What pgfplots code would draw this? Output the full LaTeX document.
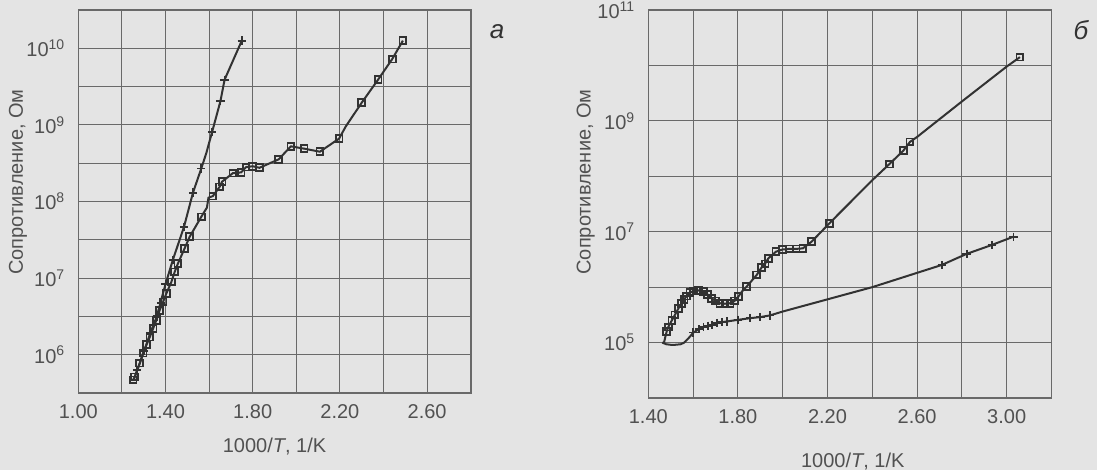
\documentclass[border=0pt]{standalone}
\usepackage{pgfplots}
\pgfplotsset{compat=1.18}
\usepackage{fontspec}
\setmainfont{Liberation Sans}

\definecolor{bg}{RGB}{228,228,228}
\definecolor{ink}{RGB}{50,50,50}
\definecolor{gridc}{RGB}{105,105,105}

% resistance as log10(R, Ohm) vs 1000/T
\pgfplotsset{
  panel/.style={
    scale only axis,
    axis background/.style={fill=bg},
    axis line style={gridc, line width=0.8pt},
    grid=both,
    major grid style={gridc, line width=0.5pt},
    minor grid style={gridc, line width=0.5pt},
    major tick length=0pt, minor tick length=0pt,
    tick label style={font=\fontsize{10}{12}\selectfont, text=ink!85},
    label style={font=\fontsize{10}{12}\selectfont, text=ink!85},
    xticklabel style={yshift=-2pt},
    yticklabel style={xshift=-3pt},
    clip=false,
  },
  sq/.style={ink, line width=1pt, mark=square, mark size=1.7pt, mark options={solid, fill=bg!70!ink, line width=0.9pt}},
  pl/.style={ink, line width=1pt, mark=+, mark size=2.1pt, mark options={line width=0.9pt}},
  ln/.style={ink, line width=1pt, no marks},
}

\begin{document}
\begin{tikzpicture}
\fill[bg] (0,0) rectangle (548.5pt,235pt);
\path[use as bounding box] (0,0) rectangle (548.5pt,235pt);

% panel a
\begin{axis}[panel,
  at={(39.15pt,38.5pt)}, anchor=south west,
  width=196.2pt, height=191.5pt,
  xmin=1.0, xmax=2.8, ymin=5.5, ymax=10.5,
  xtick={1.0,1.4,1.8,2.2,2.6}, minor xtick={1.2,1.6,2.0,2.4},
  xticklabels={1.00,1.40,1.80,2.20,2.60},
  ytick={6,7,8,9,10}, minor ytick={6.5,7.5,8.5,9.5},
  yticklabels={10\textsuperscript{6},10\textsuperscript{7},10\textsuperscript{8},10\textsuperscript{9},10\textsuperscript{10}},
  xlabel={1000/\textit{T}, 1/K},
  ylabel={Сопротивление, Ом},
  xlabel style={at={(axis description cs:0.5,-0.141)}, anchor=center},
  ylabel style={at={(axis description cs:-0.154,0.551)}, anchor=center},
]
\addplot[ln] coordinates {
(1.255,5.68) (1.29,5.95) (1.33,6.28) (1.36,6.50) (1.40,6.92) (1.434,7.24)
(1.485,7.67) (1.526,8.115) (1.564,8.43) (1.587,8.63) (1.614,8.91)
(1.652,9.31) (1.671,9.59) (1.750,10.10)};
\addplot[pl, only marks] coordinates {
(1.27,5.80) (1.30,6.05) (1.33,6.28) (1.36,6.50) (1.38,6.68) (1.40,6.92)
(1.434,7.24) (1.485,7.67) (1.526,8.115) (1.564,8.43) (1.614,8.91)
(1.652,9.31) (1.671,9.59) (1.750,10.10)};
\addplot[ln] coordinates {
(1.251,5.67) (1.259,5.71) (1.282,5.89) (1.297,6.02) (1.313,6.13) (1.328,6.23)
(1.343,6.34) (1.358,6.45) (1.373,6.58) (1.389,6.69) (1.404,6.80) (1.427,6.95)
(1.442,7.08) (1.457,7.19) (1.488,7.39) (1.511,7.54) (1.564,7.80) (1.590,7.92)
(1.597,8.05) (1.617,8.07) (1.648,8.19) (1.660,8.26) (1.709,8.37) (1.747,8.38)
(1.770,8.45) (1.800,8.46) (1.831,8.44) (1.919,8.55) (1.975,8.72) (2.036,8.69)
(2.108,8.65) (2.196,8.82) (2.227,8.98) (2.300,9.29) (2.375,9.59) (2.440,9.86)
(2.489,10.10)};
\addplot[sq, only marks] coordinates {
(1.251,5.67) (1.259,5.71) (1.282,5.89) (1.297,6.02) (1.313,6.13) (1.328,6.23)
(1.343,6.34) (1.358,6.45) (1.373,6.58) (1.389,6.69) (1.404,6.80) (1.427,6.95)
(1.442,7.08) (1.457,7.19) (1.488,7.39) (1.511,7.54) (1.564,7.80)
(1.617,8.07) (1.648,8.19) (1.660,8.26) (1.709,8.37) (1.747,8.38)
(1.770,8.45) (1.800,8.46) (1.831,8.44) (1.919,8.55) (1.975,8.72) (2.036,8.69)
(2.108,8.65) (2.196,8.82) (2.300,9.29) (2.375,9.59) (2.440,9.86)
(2.489,10.10)};
\node[font=\fontsize{13}{13}\selectfont\itshape, text=ink] at (rel axis cs:1.067,0.943) {а};
\end{axis}

% panel b
\begin{axis}[panel,
  at={(324.15pt,36pt)}, anchor=south west,
  width=201.6pt, height=194pt,
  xmin=1.4, xmax=3.2, ymin=4, ymax=11,
  xtick={1.4,1.8,2.2,2.6,3.0}, minor xtick={1.6,2.0,2.4,2.8},
  xticklabels={1.40,1.80,2.20,2.60,3.00},
  ytick={5,7,9,11}, minor ytick={6,8,10},
  yticklabels={10\textsuperscript{5},10\textsuperscript{7},10\textsuperscript{9},10\textsuperscript{11}},
  xlabel={1000/\textit{T}, 1/K},
  ylabel={Сопротивление, Ом},
  xlabel style={at={(axis description cs:0.507,-0.165)}, anchor=center},
  ylabel style={at={(axis description cs:-0.155,0.557)}, anchor=center},
]
\addplot[ln] coordinates {
(1.462,5.00) (1.480,4.97) (1.500,4.96) (1.520,4.96) (1.545,4.97) (1.560,5.00)
(1.580,5.08) (1.601,5.18) (1.625,5.24) (1.646,5.28) (1.665,5.30) (1.685,5.32)
(1.705,5.35) (1.730,5.37) (1.750,5.38) (1.800,5.41) (1.854,5.44) (1.900,5.46)
(1.943,5.49) (2.000,5.56) (2.400,6.00) (2.710,6.40) (2.821,6.60) (2.933,6.76)
(3.030,6.91)};
\addplot[pl, only marks] coordinates {
(1.601,5.18) (1.625,5.24) (1.646,5.28) (1.665,5.30) (1.685,5.32)
(1.705,5.35) (1.730,5.37) (1.750,5.38) (1.800,5.41) (1.854,5.44) (1.900,5.46)
(1.943,5.49) (2.710,6.40) (2.821,6.60) (2.933,6.76) (3.030,6.91)};
\addplot[ln] coordinates {
(1.470,5.00) (1.482,5.20) (1.489,5.28) (1.505,5.40) (1.519,5.50) (1.535,5.62)
(1.549,5.71) (1.560,5.78) (1.571,5.84) (1.586,5.90) (1.601,5.93) (1.624,5.94)
(1.646,5.92) (1.664,5.87) (1.683,5.80) (1.700,5.75) (1.720,5.71) (1.742,5.70)
(1.765,5.71) (1.785,5.75) (1.802,5.83) (1.820,5.93) (1.839,6.01) (1.884,6.22)
(1.905,6.35) (1.921,6.42) (1.936,6.52) (1.970,6.64) (2.000,6.68) (2.030,6.69)
(2.060,6.69) (2.090,6.70) (2.129,6.82) (2.208,7.15) (2.400,7.93) (2.476,8.22)
(2.538,8.46) (2.568,8.62) (2.600,8.71) (2.800,9.35) (3.000,9.98) (3.059,10.15)};
\addplot[sq, only marks] coordinates {
(1.482,5.20) (1.489,5.28) (1.505,5.40) (1.519,5.50) (1.535,5.62)
(1.549,5.71) (1.560,5.78) (1.571,5.84) (1.586,5.90) (1.601,5.93) (1.624,5.94)
(1.646,5.92) (1.664,5.87) (1.683,5.80) (1.700,5.75) (1.720,5.71) (1.742,5.70)
(1.765,5.71) (1.785,5.75) (1.802,5.83) (1.839,6.01) (1.884,6.22)
(1.905,6.35) (1.921,6.42) (1.936,6.52) (1.970,6.64) (2.000,6.68) (2.030,6.69)
(2.060,6.69) (2.090,6.70) (2.129,6.82) (2.208,7.15) (2.476,8.22)
(2.538,8.46) (2.568,8.62) (3.059,10.15)};
\node[font=\fontsize{13}{13}\selectfont\itshape, text=ink] at (rel axis cs:1.073,0.948) {б};
\end{axis}
\end{tikzpicture}
\end{document}
